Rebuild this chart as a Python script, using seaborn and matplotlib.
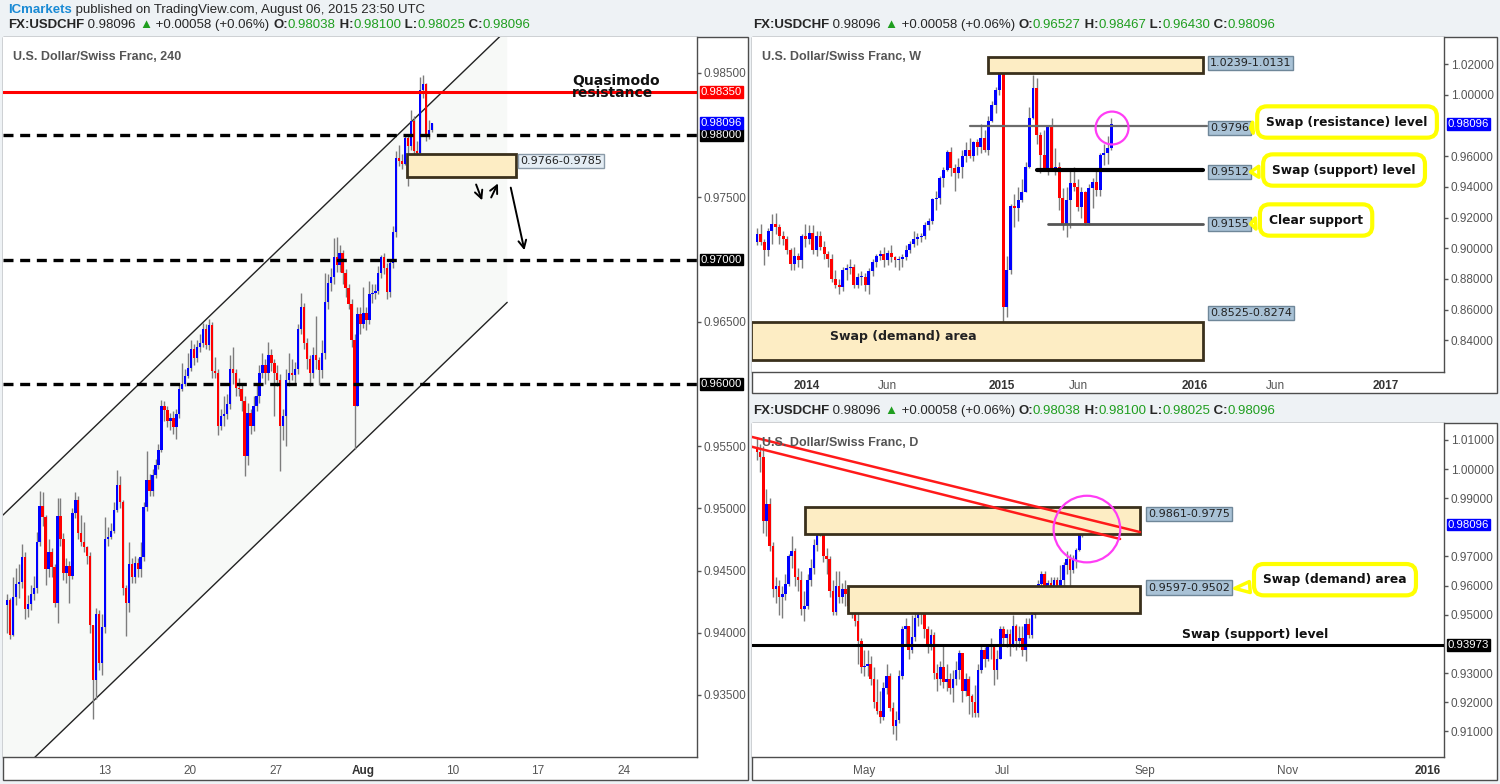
import matplotlib
matplotlib.use("Agg")
import matplotlib.pyplot as plt
from matplotlib.patches import Rectangle, Polygon
import numpy as np
import seaborn as sns

# ---------------- data: 4H panel (USDCHF, 240) ----------------
h4_open0 = 0.9422
h4_close = [0.9426, 0.9398, 0.9429, 0.9439, 0.9441, 0.9461, 0.9419, 0.9423, 0.9431, 0.9436,
            0.9473, 0.9502, 0.9493, 0.9451, 0.9465, 0.9453, 0.9424, 0.9494, 0.9475, 0.9448,
            0.9454, 0.9446, 0.9496, 0.9507, 0.9480, 0.9473, 0.9469, 0.9462, 0.9406, 0.9362,
            0.9415, 0.9376, 0.9405, 0.9475, 0.9477, 0.9482, 0.9499, 0.9519, 0.9505, 0.9436,
            0.9424, 0.9455, 0.9445, 0.9456, 0.9451, 0.9461, 0.9501, 0.9523, 0.9514, 0.9527,
            0.9535, 0.9547, 0.9582, 0.9579, 0.9570, 0.9573, 0.9565, 0.9576, 0.9596, 0.9600,
            0.9606, 0.9613, 0.9628, 0.9621, 0.9630, 0.9633, 0.9644, 0.9631, 0.9647, 0.9610,
            0.9609, 0.9566, 0.9574, 0.9576, 0.9584, 0.9612, 0.9609, 0.9597, 0.9596, 0.9586,
            0.9542, 0.9577, 0.9566, 0.9582, 0.9590, 0.9609, 0.9615, 0.9609, 0.9623, 0.9617,
            0.9609, 0.9603, 0.9566, 0.9574, 0.9603, 0.9609, 0.9607, 0.9612, 0.9644, 0.9662,
            0.9633, 0.9620, 0.9609, 0.9623, 0.9619, 0.9611, 0.9625, 0.9666, 0.9681, 0.9686,
            0.9702, 0.9696, 0.9705, 0.9689, 0.9677, 0.9664, 0.9635, 0.9582, 0.9656, 0.9648,
            0.9657, 0.9651, 0.9672, 0.9673, 0.9675, 0.9689, 0.9702, 0.9693, 0.9674, 0.9697,
            0.9722, 0.9782, 0.9779, 0.9777, 0.9798, 0.9791, 0.9811, 0.9787, 0.9786, 0.9836,
            0.9841, 0.9800, 0.98038, 0.98096]
h4_high = [0.9431, 0.9428, 0.9445, 0.9452, 0.9455, 0.9471, 0.9465, 0.9430, 0.9438, 0.9446,
           0.9481, 0.9514, 0.9513, 0.9495, 0.9475, 0.9468, 0.9455, 0.9508, 0.9508, 0.9480,
           0.9460, 0.9458, 0.9500, 0.9513, 0.9510, 0.9495, 0.9489, 0.9470, 0.9465, 0.9406,
           0.9420, 0.9418, 0.9415, 0.9493, 0.9485, 0.9488, 0.9505, 0.9531, 0.9526, 0.9507,
           0.9438, 0.9473, 0.9460, 0.9462, 0.9460, 0.9473, 0.9505, 0.9546, 0.9528, 0.9532,
           0.9540, 0.9552, 0.9587, 0.9586, 0.9582, 0.9577, 0.9578, 0.9580, 0.9600, 0.9617,
           0.9612, 0.9625, 0.9635, 0.9632, 0.9635, 0.9640, 0.9649, 0.9648, 0.9652, 0.9650,
           0.9622, 0.9612, 0.9580, 0.9590, 0.9592, 0.9623, 0.9630, 0.9612, 0.9605, 0.9600,
           0.9590, 0.9585, 0.9580, 0.9590, 0.9600, 0.9615, 0.9625, 0.9620, 0.9634, 0.9628,
           0.9620, 0.9615, 0.9608, 0.9580, 0.9612, 0.9625, 0.9620, 0.9618, 0.9648, 0.9673,
           0.9665, 0.9637, 0.9623, 0.9630, 0.9655, 0.9622, 0.9635, 0.9689, 0.9688, 0.9693,
           0.9717, 0.9718, 0.9712, 0.9708, 0.9692, 0.9680, 0.9668, 0.9640, 0.9662, 0.9662,
           0.9678, 0.9662, 0.9683, 0.9680, 0.9680, 0.9695, 0.9704, 0.9705, 0.9697, 0.9700,
           0.9727, 0.9787, 0.9792, 0.9785, 0.9800, 0.9800, 0.9820, 0.9815, 0.9795, 0.9847,
           0.9848, 0.9842, 0.9812, 0.98100]
h4_low = [0.9400, 0.9395, 0.9397, 0.9422, 0.9428, 0.9436, 0.9411, 0.9413, 0.9418, 0.9426,
          0.9432, 0.9470, 0.9486, 0.9438, 0.9445, 0.9445, 0.9421, 0.9408, 0.9470, 0.9442,
          0.9440, 0.9424, 0.9443, 0.9492, 0.9475, 0.9470, 0.9465, 0.9455, 0.9400, 0.9331,
          0.9347, 0.9370, 0.9366, 0.9400, 0.9470, 0.9475, 0.9480, 0.9497, 0.9500, 0.9430,
          0.9397, 0.9417, 0.9440, 0.9440, 0.9445, 0.9445, 0.9458, 0.9498, 0.9510, 0.9510,
          0.9524, 0.9532, 0.9545, 0.9570, 0.9565, 0.9563, 0.9560, 0.9556, 0.9573, 0.9594,
          0.9598, 0.9605, 0.9610, 0.9615, 0.9618, 0.9626, 0.9630, 0.9628, 0.9627, 0.9605,
          0.9605, 0.9559, 0.9563, 0.9566, 0.9572, 0.9580, 0.9600, 0.9590, 0.9590, 0.9578,
          0.9526, 0.9535, 0.9560, 0.9562, 0.9578, 0.9585, 0.9605, 0.9600, 0.9603, 0.9610,
          0.9574, 0.9598, 0.9530, 0.9555, 0.9550, 0.9598, 0.9603, 0.9600, 0.9608, 0.9640,
          0.9628, 0.9612, 0.9598, 0.9605, 0.9612, 0.9599, 0.9605, 0.9620, 0.9660, 0.9675,
          0.9680, 0.9690, 0.9690, 0.9680, 0.9670, 0.9660, 0.9630, 0.9548, 0.9585, 0.9640,
          0.9645, 0.9643, 0.9648, 0.9665, 0.9668, 0.9672, 0.9685, 0.9688, 0.9668, 0.9670,
          0.9693, 0.9718, 0.9775, 0.9773, 0.9776, 0.9759, 0.9788, 0.9780, 0.9771, 0.9767,
          0.9830, 0.9795, 0.9797, 0.98025]
h4_ticks = ["13", "20", "27", "Aug", "10", "17", "24"]

# ---------------- data: weekly panel ----------------
wk_open0 = 0.9040
wk_close = [0.9090, 0.9040, 0.8990, 0.9110, 0.9160, 0.9140, 0.9080, 0.9060, 0.8990, 0.8900,
            0.8950, 0.8920, 0.9080, 0.9060, 0.9100, 0.8990, 0.9080, 0.9010, 0.8960, 0.8930,
            0.8800, 0.8760, 0.8750, 0.8860, 0.8870, 0.8880, 0.8760, 0.8810, 0.8810, 0.8760,
            0.8850, 0.8910, 0.8950, 0.8960, 0.8920, 0.8970, 0.8940, 0.8920, 0.8930, 0.8940,
            0.8990, 0.9030, 0.9060, 0.9070, 0.9080, 0.9150, 0.9180, 0.9320, 0.9330, 0.9460,
            0.9510, 0.9630, 0.9520, 0.9490, 0.9530, 0.9600, 0.9640, 0.9600, 0.9690, 0.9660,
            0.9720, 0.9640, 0.9830, 0.9930, 1.0030, 1.0180, 0.8620, 0.8860, 0.9275, 0.9265,
            0.9314, 0.9368, 0.9531, 0.9846, 1.0041, 0.9737, 0.9607, 0.9520, 0.9792, 0.9509,
            0.9531, 0.9325, 0.9151, 0.9314, 0.9423, 0.9401, 0.9270, 0.9368, 0.9162, 0.9390,
            0.9434, 0.9379, 0.9607, 0.9618, 0.96527, 0.98096]
wk_high = [0.9130, 0.9160, 0.9060, 0.9130, 0.9220, 0.9230, 0.9160, 0.9110, 0.9080, 0.9000,
           0.9010, 0.8970, 0.9090, 0.9160, 0.9150, 0.9150, 0.9110, 0.9110, 0.9050, 0.8980,
           0.8960, 0.8860, 0.8800, 0.8880, 0.8900, 0.8930, 0.8900, 0.8840, 0.8850, 0.8840,
           0.8870, 0.8930, 0.8960, 0.8990, 0.9010, 0.8990, 0.9020, 0.8950, 0.8950, 0.8960,
           0.9020, 0.9050, 0.9110, 0.9100, 0.9100, 0.9170, 0.9200, 0.9330, 0.9370, 0.9470,
           0.9530, 0.9640, 0.9660, 0.9550, 0.9590, 0.9640, 0.9690, 0.9720, 0.9700, 0.9710,
           0.9810, 0.9770, 0.9860, 0.9960, 1.0050, 1.0210, 1.0240, 0.8950, 0.9290, 0.9350,
           0.9400, 0.9450, 0.9560, 0.9920, 1.0129, 1.0110, 0.9760, 0.9770, 0.9800, 0.9850,
           0.9650, 0.9560, 0.9390, 0.9400, 0.9500, 0.9530, 0.9450, 0.9400, 0.9370, 0.9420,
           0.9460, 0.9500, 0.9620, 0.9680, 0.9730, 0.98467]
wk_low = [0.9020, 0.9020, 0.8890, 0.8950, 0.9030, 0.9090, 0.9030, 0.9020, 0.8960, 0.8860,
          0.8860, 0.8880, 0.8870, 0.9010, 0.9030, 0.8960, 0.8950, 0.8990, 0.8930, 0.8880,
          0.8780, 0.8740, 0.8700, 0.8720, 0.8790, 0.8830, 0.8740, 0.8740, 0.8760, 0.8720,
          0.8700, 0.8820, 0.8880, 0.8920, 0.8880, 0.8890, 0.8910, 0.8880, 0.8860, 0.8880,
          0.8920, 0.8970, 0.9010, 0.9020, 0.9040, 0.9060, 0.9120, 0.9160, 0.9250, 0.9290,
          0.9400, 0.9500, 0.9470, 0.9370, 0.9460, 0.9460, 0.9560, 0.9590, 0.9570, 0.9610,
          0.9620, 0.9630, 0.9610, 0.9820, 0.9880, 1.0000, 0.8300, 0.8550, 0.8830, 0.9140,
          0.9180, 0.9300, 0.9380, 0.9520, 0.9840, 0.9680, 0.9490, 0.9500, 0.9480, 0.9500,
          0.9480, 0.9250, 0.9120, 0.9072, 0.9130, 0.9370, 0.9240, 0.9200, 0.9150, 0.9150,
          0.9260, 0.9340, 0.9340, 0.9540, 0.9548, 0.96430]
wk_ticks = ["2014", "Jun", "2015", "Jun", "2016", "Jun", "2017"]

# ---------------- data: daily panel ----------------
d1_open0 = 1.0070
d1_close = [1.0060, 1.0040, 0.9820, 0.9880, 0.9737, 0.9590, 0.9600, 0.9560, 0.9570, 0.9607,
            0.9700, 0.9720, 0.9630, 0.9620, 0.9520, 0.9530, 0.9620, 0.9660, 0.9740, 0.9792,
            0.9830, 0.9700, 0.9690, 0.9580, 0.9509, 0.9600, 0.9560, 0.9590, 0.9570, 0.9531,
            0.9530, 0.9480, 0.9410, 0.9320, 0.9325, 0.9330, 0.9280, 0.9200, 0.9170, 0.9151,
            0.9250, 0.9290, 0.9180, 0.9120, 0.9140, 0.9290, 0.9450, 0.9460, 0.9380, 0.9423,
            0.9490, 0.9510, 0.9520, 0.9450, 0.9401, 0.9430, 0.9300, 0.9280, 0.9320, 0.9270,
            0.9280, 0.9250, 0.9280, 0.9310, 0.9368, 0.9240, 0.9280, 0.9220, 0.9200, 0.9162,
            0.9310, 0.9380, 0.9350, 0.9390, 0.9390, 0.9310, 0.9350, 0.9450, 0.9420, 0.9434,
            0.9400, 0.9460, 0.9410, 0.9420, 0.9379, 0.9470, 0.9430, 0.9500, 0.9570, 0.9607,
            0.9640, 0.9566, 0.9610, 0.9577, 0.9618, 0.9600, 0.9620, 0.9670, 0.9690, 0.9655,
            0.9689, 0.9722, 0.9811, 0.98038, 0.98096]
d1_high = [1.0110, 1.0085, 1.0080, 0.9930, 0.9900, 0.9750, 0.9630, 0.9620, 0.9600, 0.9640,
           0.9710, 0.9770, 0.9730, 0.9660, 0.9650, 0.9580, 0.9640, 0.9690, 0.9760, 0.9800,
           0.9850, 0.9840, 0.9730, 0.9700, 0.9620, 0.9650, 0.9650, 0.9610, 0.9620, 0.9590,
           0.9560, 0.9560, 0.9520, 0.9420, 0.9380, 0.9380, 0.9360, 0.9320, 0.9280, 0.9240,
           0.9270, 0.9330, 0.9300, 0.9200, 0.9170, 0.9310, 0.9460, 0.9490, 0.9460, 0.9500,
           0.9510, 0.9522, 0.9530, 0.9520, 0.9460, 0.9450, 0.9440, 0.9330, 0.9340, 0.9400,
           0.9330, 0.9300, 0.9310, 0.9340, 0.9380, 0.9370, 0.9300, 0.9290, 0.9230, 0.9260,
           0.9330, 0.9400, 0.9390, 0.9400, 0.9420, 0.9390, 0.9380, 0.9460, 0.9460, 0.9450,
           0.9450, 0.9500, 0.9470, 0.9460, 0.9460, 0.9490, 0.9490, 0.9530, 0.9590, 0.9620,
           0.9650, 0.9650, 0.9620, 0.9630, 0.9630, 0.9630, 0.9670, 0.9680, 0.9720, 0.9710,
           0.9705, 0.9730, 0.9820, 0.9847, 0.98100]
d1_low = [1.0030, 0.9990, 0.9780, 0.9770, 0.9720, 0.9560, 0.9540, 0.9500, 0.9490, 0.9550,
          0.9600, 0.9660, 0.9600, 0.9580, 0.9500, 0.9480, 0.9520, 0.9600, 0.9640, 0.9720,
          0.9770, 0.9680, 0.9640, 0.9560, 0.9500, 0.9500, 0.9540, 0.9540, 0.9530, 0.9510,
          0.9490, 0.9460, 0.9330, 0.9300, 0.9290, 0.9290, 0.9260, 0.9180, 0.9160, 0.9130,
          0.9140, 0.9230, 0.9170, 0.9090, 0.9072, 0.9130, 0.9280, 0.9400, 0.9350, 0.9370,
          0.9410, 0.9460, 0.9470, 0.9420, 0.9370, 0.9380, 0.9280, 0.9240, 0.9260, 0.9250,
          0.9240, 0.9230, 0.9200, 0.9260, 0.9280, 0.9200, 0.9220, 0.9160, 0.9150, 0.9150,
          0.9150, 0.9300, 0.9320, 0.9340, 0.9350, 0.9260, 0.9280, 0.9350, 0.9400, 0.9390,
          0.9360, 0.9390, 0.9380, 0.9390, 0.9360, 0.9340, 0.9420, 0.9420, 0.9490, 0.9560,
          0.9590, 0.9550, 0.9550, 0.9540, 0.9560, 0.9570, 0.9590, 0.9600, 0.9640, 0.9548,
          0.9643, 0.9660, 0.9718, 0.9767, 0.98025]
d1_ticks = ["May", "Jul", "Sep", "Nov", "2016"]

# levels / zones drawn on the charts
h4_qm = 0.9835
h4_round = [0.98, 0.97, 0.96]
h4_zone = (0.9766, 0.9785)
wk_supply = (1.0131, 1.0239)
wk_demand = (0.8274, 0.8525)
wk_lines = [0.9796, 0.9512, 0.9155]
d1_supply = (0.9775, 0.9861)
d1_demand = (0.9502, 0.9597)
d1_swap = 0.93973
last_price = 0.98096

# ---------------- style ----------------
sns.set_theme(style="white")
plt.rcParams["font.family"] = ["Liberation Sans", "DejaVu Sans"]
HEAD = ["Liberation Sans Narrow", "Liberation Sans", "DejaVu Sans"]
BOLD = ["DejaVu Sans"]
BLUE, RED, WICK = "#0000ff", "#ff0000", "#7d7d7d"
GRAY, EDGE = "#555555", "#4d4d4d"
ZONE_FC, ZONE_EC = "#fdedc4", "#3a301c"
LBL_FC = "#a9c2d6"
W, H = 1500, 784

fig = plt.figure(figsize=(15, 7.84), dpi=100, facecolor="#eef2f5")


def rect(x0, y0, x1, y1):
    return [x0 / W, 1 - y1 / H, (x1 - x0) / W, (y1 - y0) / H]


def frame(x0, y0, x1, y1):
    fig.add_artist(Rectangle((x0 / W, 1 - y1 / H), (x1 - x0) / W, (y1 - y0) / H,
                             transform=fig.transFigure, fc="white", ec=EDGE, lw=1, zorder=-5))


def setup(ax, xlim, ylim, yticks, hidden):
    ax.set_facecolor("white")
    ax.set_xlim(*xlim)
    ax.set_ylim(*ylim)
    for s in ["top", "left"]:
        ax.spines[s].set_visible(False)
    for s in ["right", "bottom"]:
        ax.spines[s].set_color(EDGE)
        ax.spines[s].set_linewidth(1)
    ax.yaxis.tick_right()
    # labels sitting under a price tag are hidden, as on the original
    yticks = [v for v in yticks if all(abs(v - hv) > 1e-6 for hv in hidden)]
    ax.set_yticks(yticks)
    ax.set_yticklabels(["%.5f" % v for v in yticks])
    ax.tick_params(axis="both", direction="out", length=3, width=1, color=GRAY,
                   labelcolor=GRAY, labelsize=8.5, pad=2)
    ax.tick_params(axis="x", pad=3)
    ax.grid(False)


def candles(ax, open0, close, high, low, width, minbody):
    close = np.asarray(close)
    opn = np.r_[open0, close[:-1]]
    x = np.arange(len(close))
    hi = np.maximum(high, np.maximum(opn, close))
    lo = np.minimum(low, np.minimum(opn, close))
    ax.vlines(x, lo, hi, color=WICK, lw=1, zorder=3)
    up = close >= opn
    body = np.maximum(np.abs(close - opn), minbody)
    ax.bar(x, body, bottom=np.minimum(opn, close), width=width,
           color=np.where(up, BLUE, RED), lw=0, zorder=4)


def tag(ax, y, text, color):
    ax.annotate(text, xy=(1, y), xycoords=("axes fraction", "data"), xytext=(2.5, 0),
                textcoords="offset points", ha="left", va="center", color="white", fontsize=8.2,
                bbox=dict(boxstyle="square,pad=0.08", fc=color, ec=color),
                annotation_clip=False, zorder=20)


def zone(ax, x0, x1, lohi):
    ax.add_patch(Rectangle((x0, lohi[0]), x1 - x0, lohi[1] - lohi[0], fc=ZONE_FC,
                           ec=ZONE_EC, lw=2, zorder=5))


def label(ax, x, y, text, fc=LBL_FC, ec="#6f8799"):
    ax.text(x, y, text, ha="left", va="center", fontsize=8, family=BOLD, color="#222",
            bbox=dict(boxstyle="square,pad=0.2", fc=fc, ec=ec, lw=1), zorder=12)


def callout(ax, text, xy_text, xy_pt):
    ax.annotate(text, xy=xy_pt, xytext=xy_text, ha="center", va="center", fontsize=8.8,
                fontweight="bold", family=BOLD, color="#111",
                bbox=dict(boxstyle="round,pad=0.75,rounding_size=0.8", fc="white", ec="#ffff00", lw=3),
                arrowprops=dict(arrowstyle="wedge,tail_width=0.9,shrink_factor=0.5",
                                fc="white", ec="#ffff00", lw=2.5),
                annotation_clip=False, zorder=15)


def write_row(x, y, parts, size=9.5):
    r = fig.canvas.get_renderer()
    for txt, col, wt in parts:
        t = fig.text(x / W, 1 - y / H, txt, color=col, fontsize=size, fontweight=wt,
                     va="center", ha="left", family=HEAD)
        x += t.get_window_extent(r).width


GREEN = "#1f9e1f"
DARK = "#262626"


def quote_row(x, y, o, h, l, c):
    write_row(x, y, [("FX:USDCHF", DARK, "bold"), (" 0.98096 ", DARK, "normal"),
                     ("\u25b2", GREEN, "normal"), (" +0.00058 (+0.06%) ", DARK, "normal"),
                     ("O:", DARK, "bold"), (o, GREEN, "normal"), (" H:", DARK, "bold"),
                     (h, GREEN, "normal"), (" L:", DARK, "bold"), (l, GREEN, "normal"),
                     (" C:", DARK, "bold"), (c, GREEN, "normal")])


# ---------------- frames and header ----------------
frame(3, 37, 748, 780)
frame(752, 37, 1497, 393)
frame(752, 423, 1497, 780)

write_row(8, 10, [("ICmarkets", "#1a8ad4", "bold"),
                  (" published on TradingView.com, August 06, 2015 23:50 UTC", DARK, "normal")])
quote_row(8, 25, "0.98038", "0.98100", "0.98025", "0.98096")
quote_row(753, 25, "0.96527", "0.98467", "0.96430", "0.98096")
quote_row(753, 411, "0.98038", "0.98100", "0.98025", "0.98096")

# ---------------- 4H panel ----------------
ax1 = fig.add_axes(rect(3, 37, 697, 757))
setup(ax1, (-1.35, 232.3), (0.93001, 0.98789), np.round(np.arange(0.935, 0.9851, 0.005), 3), h4_round)
ax1.set_xticks([32.7, 61.6, 90.6, 119.9, 150.2, 178.8, 207.8])
ax1.set_xticklabels(h4_ticks)

chan_x = [-1.35, 168.4]
chan_up = [0.94946, 0.98850]
chan_lo = [0.92752, 0.96656]
ax1.add_patch(Polygon([(chan_x[0], chan_up[0]), (chan_x[1], chan_up[1]),
                       (chan_x[1], chan_lo[1]), (chan_x[0], chan_lo[0])],
                      closed=True, fc="#f7f9f7", ec="none", zorder=1))
sns.lineplot(x=chan_x, y=chan_up, ax=ax1, color="#222", lw=1, zorder=2)
sns.lineplot(x=chan_x, y=chan_lo, ax=ax1, color="#222", lw=1, zorder=2)

ax1.axhline(h4_qm, color="#ff0000", lw=2.2, zorder=6)
for lv in h4_round:
    ax1.axhline(lv, color="black", lw=2.4, ls=(0, (3, 2)), zorder=6)

candles(ax1, h4_open0, h4_close, h4_high, h4_low, 0.8, 0.00004)
zone(ax1, 134.7, 171.4, h4_zone)
label(ax1, 172.7, 0.9779, "%.4f-%.4f" % h4_zone, fc="#e4edf4", ec="#8a9aa8")

ax1.text(190.2, 0.98390, "Quasimodo\nresistance", ha="left", va="center", fontsize=10,
         fontweight="bold", family=BOLD, linespacing=0.8, color="#111", zorder=7)
ax1.text(0.015, 0.972, "U.S. Dollar/Swiss Franc, 240", transform=ax1.transAxes, ha="left",
         va="center", fontsize=9, fontweight="bold", color=GRAY, zorder=20)

arrow_kw = dict(arrowstyle="->", lw=1.4, color="black", mutation_scale=14)
ax1.annotate("", xy=(160.3, 0.97455), xytext=(157.6, 0.97624), arrowprops=arrow_kw, zorder=8)
ax1.annotate("", xy=(165.7, 0.97632), xytext=(162.6, 0.97479), arrowprops=arrow_kw, zorder=8)
ax1.annotate("", xy=(174.4, 0.97053), xytext=(169.4, 0.97600), arrowprops=arrow_kw, zorder=8)

tag(ax1, h4_qm, "%.5f" % h4_qm, "#ff0000")
for lv in h4_round:
    tag(ax1, lv, "%.5f" % lv, "black")
tag(ax1, last_price, "%.5f" % last_price, BLUE)

# ---------------- weekly panel ----------------
ax2 = fig.add_axes(rect(752, 37, 1444, 372))
setup(ax2, (-1.34, 184.2), (0.81935, 1.0376), np.round(np.arange(0.84, 1.0201, 0.02), 2), [0.98])
ax2.set_xticks([13.4, 34.9, 65.7, 86.1, 117.4, 138.9, 168.6])
ax2.set_xticklabels(wk_ticks)

zone(ax2, 61.9, 119.6, (1.0141, 1.0246))
zone(ax2, -1.5, 119.6, (0.8272, 0.8520))
ax2.plot([57.1, 120.6], [wk_lines[0]] * 2, color="#6b6b6b", lw=1.6, zorder=5)
ax2.plot([75.0, 119.6], [wk_lines[1]] * 2, color="black", lw=3, zorder=5)
ax2.plot([78.0, 119.6], [wk_lines[2]] * 2, color="#555", lw=2, zorder=5)
candles(ax2, wk_open0, wk_close, wk_high, wk_low, 0.8, 0.0007)

ax2.text(39.1, 0.8428, "Swap (demand) area", ha="center", va="center", fontsize=9,
         fontweight="bold", family=BOLD, color="#222", zorder=7)
label(ax2, 121.4, 1.0207, "%.4f-%.4f" % (wk_supply[1], wk_supply[0]))
label(ax2, 121.4, 0.9783, "%.4f" % wk_lines[0])
label(ax2, 121.4, 0.9496, "%.4f" % wk_lines[1])
label(ax2, 121.4, 0.9158, "%.4f" % wk_lines[2])
label(ax2, 121.4, 0.8578, "%.4f-%.4f" % (wk_demand[1], wk_demand[0]))
callout(ax2, "Swap (resistance) level", (158.2, 0.98222), (131.6, 0.9783))
callout(ax2, "Swap (support) level", (157.4, 0.95094), (131.6, 0.94964))
callout(ax2, "Clear support", (149.9, 0.91837), (131.6, 0.91577))
ax2.scatter([95.2], [0.9783], s=560, facecolors="none", edgecolors="#ff3df5", linewidths=1.6, zorder=9)
ax2.text(0.015, 0.94, "U.S. Dollar/Swiss Franc, W", transform=ax2.transAxes, ha="left",
         va="center", fontsize=9, fontweight="bold", color=GRAY, zorder=20)
tag(ax2, last_price, "%.5f" % last_price, BLUE)

# ---------------- daily panel ----------------
ax3 = fig.add_axes(rect(752, 423, 1444, 757))
setup(ax3, (-1.58, 217.4), (0.90122, 1.01578), np.round(np.arange(0.91, 1.0101, 0.01), 2), [0.98, 0.94])
ax3.set_xticks([33.9, 77.8, 122.8, 168.0, 212.3])
ax3.set_xticklabels(d1_ticks)

zone(ax3, 15.2, 121.2, (0.97769, 0.98687))
zone(ax3, 28.8, 121.2, (0.95048, 0.96000))
ax3.axhline(d1_swap, color="black", lw=2.2, zorder=5)
sns.lineplot(x=[-1.6, 121.2], y=[1.0110, 0.97837], ax=ax3, color="#ff1a1a", lw=1.8, zorder=7)
sns.lineplot(x=[-1.6, 114.9], y=[1.00762, 0.97600], ax=ax3, color="#ff1a1a", lw=1.8, zorder=7)
candles(ax3, d1_open0, d1_close, d1_high, d1_low, 0.8, 0.0003)

label(ax3, 123.7, 0.9845, "%.4f-%.4f" % (d1_supply[1], d1_supply[0]))
label(ax3, 123.7, 0.9593, "%.4f-%.4f" % (d1_demand[1], d1_demand[0]))
ax3.text(157.6, 0.94333, "Swap (support) level", ha="center", va="center", fontsize=9,
         fontweight="bold", family=BOLD, color="#111", zorder=7)
callout(ax3, "Swap (demand) area", (182.9, 0.96204), (150.3, 0.95898))
ax3.scatter([104.4], [0.9794], s=2300, facecolors="none", edgecolors="#ff3df5", linewidths=1.6, zorder=9)
ax3.text(0.015, 0.94, "U.S. Dollar/Swiss Franc, D", transform=ax3.transAxes, ha="left",
         va="center", fontsize=9, fontweight="bold", color=GRAY, zorder=20)
tag(ax3, last_price, "%.5f" % last_price, BLUE)
tag(ax3, d1_swap, "%.5f" % d1_swap, "black")

# darker bold tick labels for month/year anchors
for ax, strong in [(ax1, {"Aug"}), (ax2, {"2014", "2015", "2016", "2017"}), (ax3, {"2016"})]:
    for t in ax.get_xticklabels():
        if t.get_text() in strong:
            t.set_color("#333")
            t.set_fontweight("bold")

fig.savefig("out.png", dpi=100, facecolor=fig.get_facecolor())
